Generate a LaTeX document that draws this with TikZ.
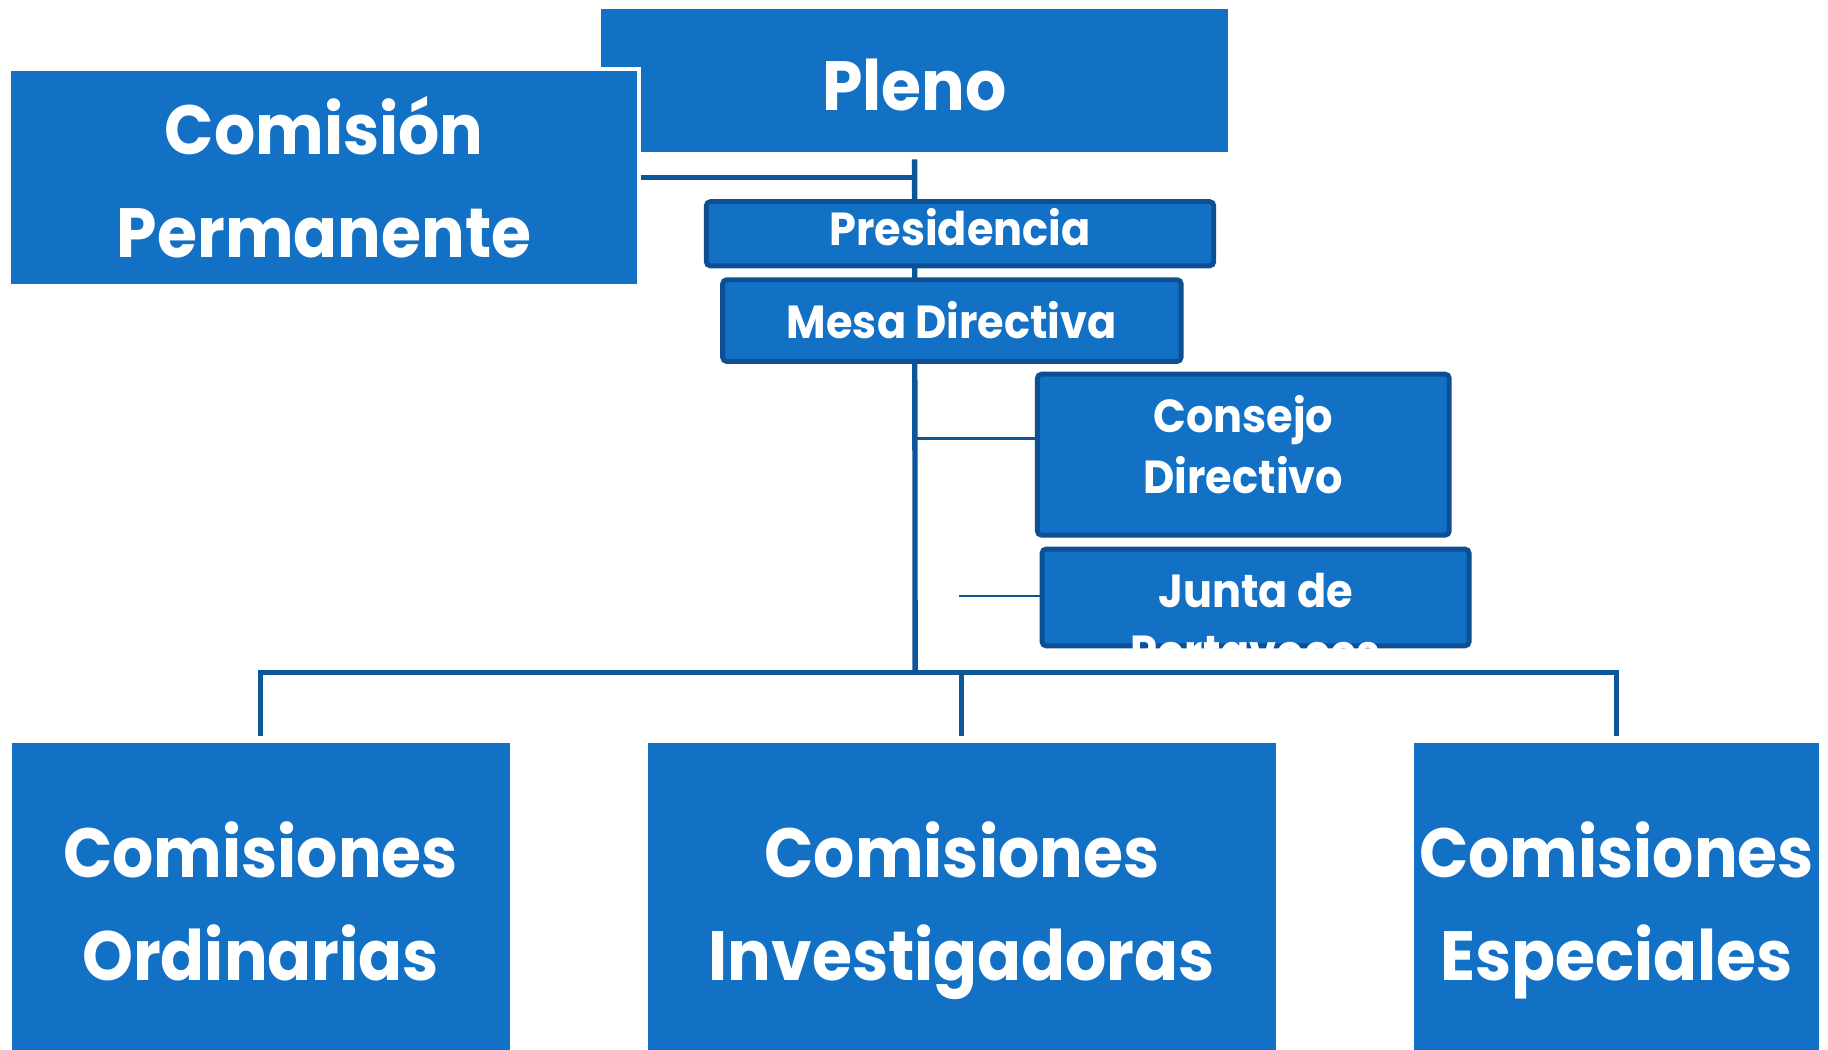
\documentclass[tikz,border=0pt]{standalone}
\usepackage{fontspec}
\setmainfont{Poppins}[FakeStretch=0.93]
\usetikzlibrary{backgrounds}
\definecolor{boxblue}{RGB}{18,112,197}
\definecolor{edgeblue}{RGB}{12,80,146}
\definecolor{lineblue}{RGB}{14,86,154}
\newcommand{\bigtxt}{\fontsize{17}{25}\selectfont\bfseries}
\newcommand{\smalltxt}{\fontsize{11.3}{14.8}\selectfont\bfseries}

\begin{document}
\begin{tikzpicture}[x=0.01cm,y=-0.01cm,
   bigbox/.style={fill=boxblue,draw=none,text=white,align=center,inner sep=0pt,font=\bigtxt},
   midbox/.style={fill=boxblue,draw=edgeblue,line width=1.2pt,rounded corners=1pt,
                  text=white,align=center,inner sep=0pt,font=\smalltxt},
   bar/.style={draw=lineblue,line width=1.3pt},
   twig/.style={draw=lineblue,line width=0.6pt}]
   \useasboundingbox (0,0) rectangle (1568,900);
   \node[bigbox,minimum width=5.37cm,minimum height=1.22cm,text height=15pt] (pleno) at (784.5,69) {Pleno};
   \node[bigbox,draw=white,line width=1pt,minimum width=5.40cm,minimum height=1.86cm]
      (perm) at (278,152) {Comisión\\Permanente};
   \node[midbox,minimum width=4.35cm,minimum height=0.55cm,text depth=3.4pt] (pres) at (823.5,200.5) {Presidencia};
   \node[midbox,minimum width=3.93cm,minimum height=0.70cm] (mesa) at (816.5,275) {Mesa Directiva};
   \node[midbox,minimum width=3.53cm,minimum height=1.38cm,text depth=5pt] (consejo) at (1066.5,390) {Consejo\\Directivo};
   \node[midbox,minimum width=3.66cm,minimum height=0.83cm] (junta) at (1077,512.5) {};
   \begin{scope}
    \clip (894,471) rectangle (1260,567);
    \node[text=white,align=center,inner sep=0pt,font=\smalltxt,anchor=north]
       (juntatxt) at (1077,491) {Junta de\\Portavoces};
   \end{scope}
   \node[bigbox,minimum width=4.27cm,minimum height=2.82cm,text depth=2.8pt] (ord) at (223.5,778) {Comisiones\\Ordinarias};
   \node[bigbox,minimum width=5.38cm,minimum height=2.82cm,text depth=2.8pt] (inv) at (825,778) {Comisiones\\Investigadoras};
   \node[bigbox,minimum width=3.47cm,minimum height=2.82cm,text depth=2.8pt] (esp) at (1386.5,778) {Comisiones\\Especiales};
   \coordinate (bus) at (785,577);
   \coordinate (jtail) at (823,511);
   \begin{scope}[on background layer]
    \fill[white] (0,0) rectangle (1568,900);
    \draw[bar] ([yshift=-0.06cm]pleno.south) -- (bus);
    \draw[bar] (perm.east) -- (perm.east -| pleno.south);
    \draw[twig] ([yshift=0.14cm]consejo.west) -- ([yshift=0.14cm]consejo.west -| bus);
    \draw[twig] (jtail) -- (jtail -| junta.west);
    \draw[bar] ([yshift=0.05cm]ord.north) -- (ord.north |- bus) -- (esp.north |- bus)
       -- ([yshift=0.05cm]esp.north);
    \draw[bar] ([yshift=0.05cm]inv.north) -- (inv.north |- bus);
   \end{scope}
\end{tikzpicture}
\end{document}
